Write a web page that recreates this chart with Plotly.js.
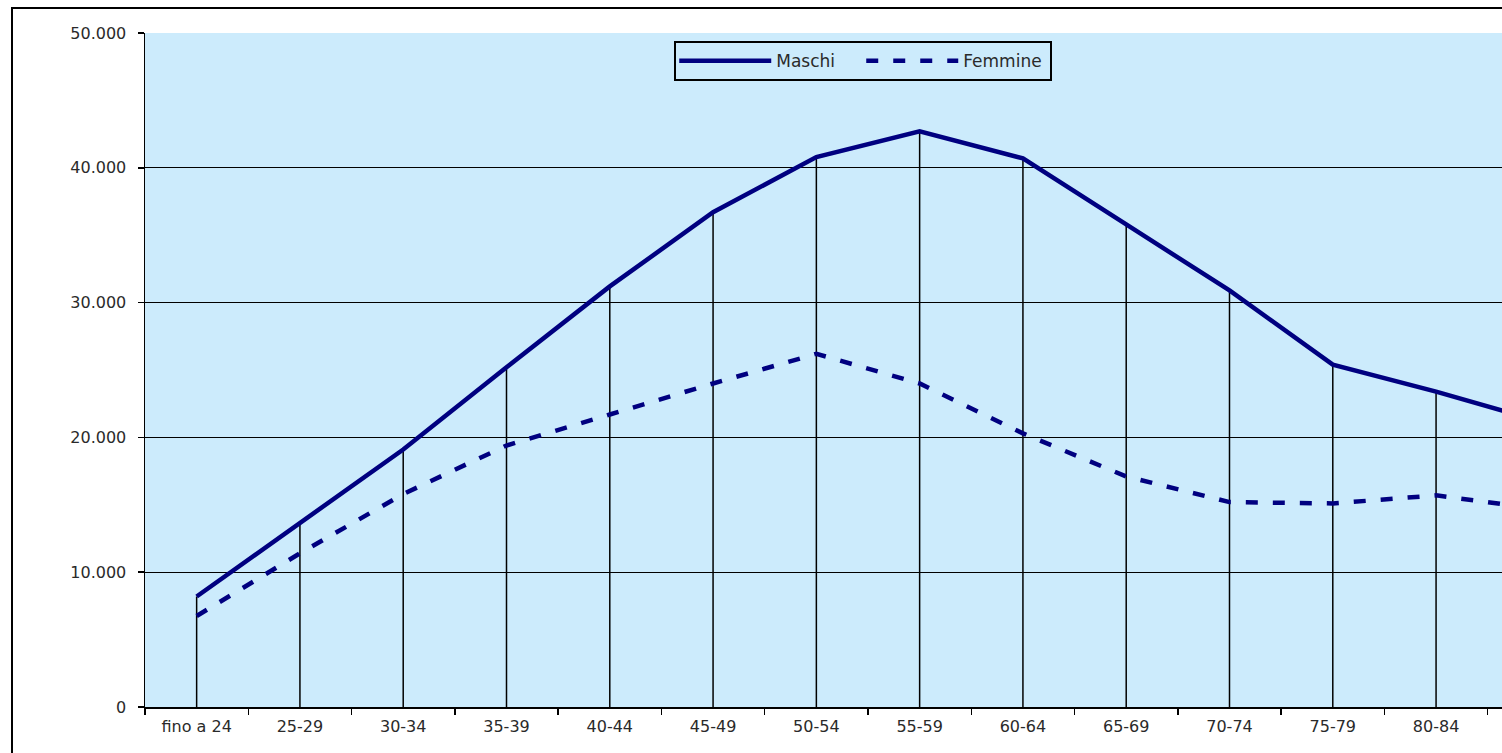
<!DOCTYPE html>
<html>
<head>
<meta charset="utf-8">
<script src="https://cdn.plot.ly/plotly-3.0.1.min.js"></script>
<style>
  html, body { margin: 0; padding: 0; overflow: hidden; background: #ffffff; width: 1502px; height: 753px; }
  #wrap { position: absolute; left: 11px; top: 7px; border: 2px solid #000; }
  #chart { width: 1598px; height: 798px; }
</style>
</head>
<body>
<div id="wrap"><div id="chart"></div></div>
<script>
const categories = ["fino a 24", "25-29", "30-34", "35-39", "40-44", "45-49", "50-54", "55-59", "60-64", "65-69", "70-74", "75-79", "80-84", "85+"];
const maschi = [8200, 13700, 19100, 25200, 31200, 36700, 40800, 42700, 40700, 35800, 30900, 25400, 23400, 21200];
const femmine = [6750, 11400, 15800, 19400, 21700, 24000, 26200, 24000, 20300, 17100, 15200, 15100, 15700, 14700];
const yTicks = [0, 10000, 20000, 30000, 40000, 50000];
// the last category's label falls outside the cropped picture in the reference
const tickLabels = categories.map((c, i) => i === categories.length - 1 ? "" : c);

const navy = "#000080";
const bg = "#CCEBFC";
const textCol = "#2a2a2a";

// drop lines from the highest point of each category down to the axis
const dropX = [], dropY = [];
categories.forEach((c, i) => {
  dropX.push(c, c, null);
  dropY.push(0, Math.max(maschi[i], femmine[i]), null);
});

const traces = [
  { x: dropX, y: dropY, mode: "lines", line: { color: "#000", width: 1.5 }, showlegend: false, hoverinfo: "skip" },
  { x: categories, y: maschi, name: "Maschi", mode: "lines", line: { color: navy, width: 4.5 } },
  { x: categories, y: femmine, name: "Femmine", mode: "lines", line: { color: navy, width: 4.5, dash: "12px,15px" } }
];

const layout = {
  width: 1598, height: 798,
  margin: { l: 132, r: 20, t: 24, b: 100 },
  paper_bgcolor: "#ffffff",
  plot_bgcolor: bg,
  separators: ",.",
  font: { family: "DejaVu Sans, Arial, sans-serif", size: 16, color: textCol },
  showlegend: true,
  legend: {
    orientation: "h", x: 0.366, y: 0.988, xanchor: "left", yanchor: "top",
    bgcolor: bg, bordercolor: "#000", borderwidth: 2,
    font: { size: 17, color: textCol }, itemwidth: 90,
    entrywidth: 82, entrywidthmode: "pixels"
  },
  xaxis: {
    type: "category", range: [-0.5, categories.length - 0.5],
    tickmode: "array", tickvals: categories, ticktext: tickLabels,
    showgrid: false, showline: true, linecolor: "#000", linewidth: 1.5,
    ticks: "outside", tickson: "boundaries", ticklen: 6, tickcolor: "#000", tickwidth: 1.5,
    ticklabelstandoff: 4,
    tickfont: { size: 16, color: textCol }, fixedrange: true
  },
  yaxis: {
    range: [0, 50000], tickvals: yTicks, tickformat: ",d",
    showgrid: true, gridcolor: "#000", gridwidth: 1.2,
    showline: true, linecolor: "#000", linewidth: 1.5,
    ticks: "outside", ticklen: 6, tickcolor: "#000", tickwidth: 1.5,
    ticklabelstandoff: 8,
    tickfont: { size: 16, color: textCol }, zeroline: false, fixedrange: true
  }
};

Plotly.newPlot("chart", traces, layout, { displayModeBar: false, staticPlot: true }).then(gd => {
  // widen the legend line samples to match the long Excel legend keys
  gd.querySelectorAll(".legend .legendlines path").forEach(p => {
    p.setAttribute("d", "M3,0h92");
  });
});
</script>
</body>
</html>
